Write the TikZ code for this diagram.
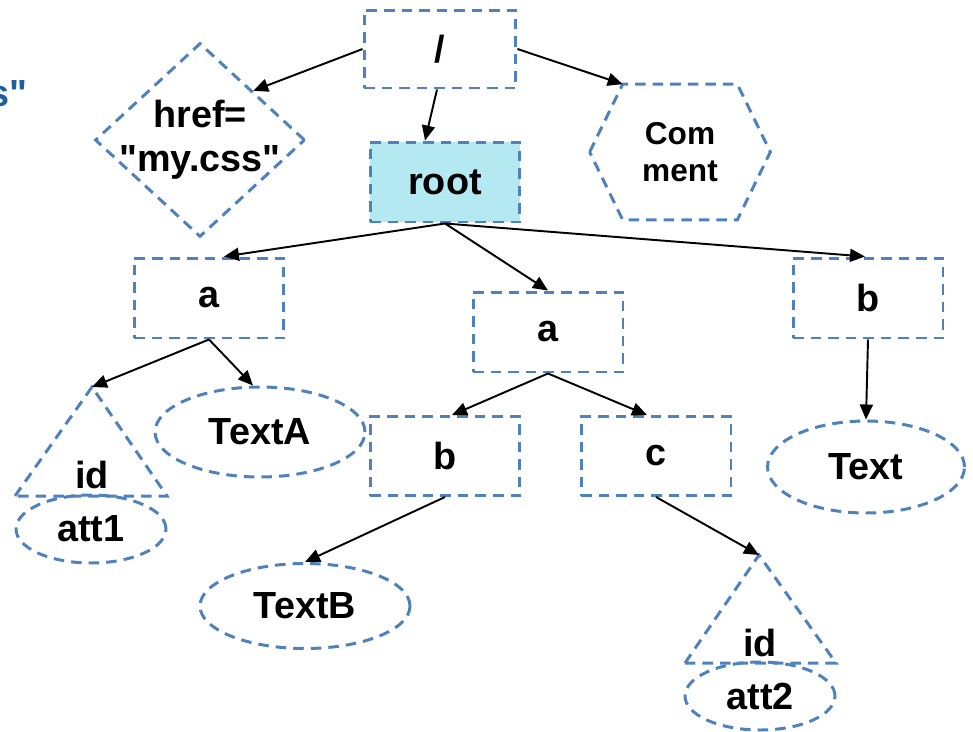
\documentclass[tikz,border=0pt]{standalone}
\usepackage{fontspec}
\setmainfont{Liberation Sans}
\usepackage{tikz}
\usetikzlibrary{arrows.meta, positioning, shapes.geometric, calc}
\definecolor{dashblue}{RGB}{79,129,189}
\definecolor{rootcyan}{RGB}{180,233,241}
\definecolor{titleblue}{RGB}{31,95,155}

\begin{document}
\begin{tikzpicture}[
      x=0.02cm, y=-0.02cm,
      font=\bfseries\fontsize{21.5}{25}\selectfont,
      dashline/.style={draw=dashblue, line width=1.7pt, dash pattern=on 6pt off 4pt},
      box/.style={rectangle, dashline, minimum width=3cm, minimum height=1.6cm, inner sep=0pt},
      textoval/.style={ellipse, dashline, minimum width=4.2cm, minimum height=1.8cm, inner sep=0pt},
      attoval/.style={ellipse, dashline, minimum width=3cm, minimum height=1.36cm, inner sep=0pt},
      arrow/.style={-{Triangle[length=3mm, width=2.6mm]}, line width=1.1pt}
    ]
    \useasboundingbox (0,0) rectangle (973,731);

    % Nodes
    \node[anchor=base east, inner sep=0pt, text=titleblue] (cut) at (28,106) {s\textquotedbl};
    \node[box, minimum width=3.04cm, minimum height=1.56cm] (slash) at (440,49) {/};
    \node[diamond, dashline, minimum width=4.2cm, minimum height=3.88cm, inner sep=0pt] (css) at (200,140) {};
    \node[align=center] (csstext) at (css) {href=\\\textquotedbl my.css\textquotedbl};
    \node[box, fill=rootcyan] (root) at (445,182) {root};
    \node[align=center, font=\bfseries\fontsize{18}{21}\selectfont, minimum width=3.6cm, minimum height=2.7cm, inner sep=0pt] (comment) at (680,152) {Com\\ment};
    \draw[dashline] (comment.west) -- ($(comment.north west)+(33,0)$) coordinate (comtip)
      -- ($(comment.north east)+(-33,0)$) -- (comment.east)
      -- ($(comment.south east)+(-33,0)$) -- ($(comment.south west)+(33,0)$) -- cycle;

    \node[box] (aleft) at (209,298) {a};
    \node[box] (amid) at (548,332) {a};
    \node[box] (bright) at (868,298) {b};
    \node[box, minimum height=1.58cm] (bmid) at (445,456) {b};
    \node[box, minimum height=1.58cm] (cmid) at (656,456) {c};

    \node[textoval] (texta) at (260,432) {TextA};
    \node[textoval, minimum height=1.7cm] (textb) at (305,606) {TextB};
    \node[textoval, minimum width=3.94cm, minimum height=1.84cm] (textc) at (866,467) {Text};

    % attribute id/att1
    \node[attoval] (att1) at (91,529) {att1};
    \node (id1) at (92,475) {id};
    \coordinate (id1top) at (92,387);
    \draw[dashline] (15,496) -- (id1top) -- (167,496) -- cycle;

    % attribute id/att2
    \node[attoval] (att2) at (760,696) {att2};
    \node (id2) at (760,643) {id};
    \coordinate (id2top) at (759,555);
    \draw[dashline] (685,663) -- (id2top) -- (836,663) -- cycle;

    % Arrows
    \draw[arrow] (slash.west) -- (css.north east);
    \draw[arrow] ([xshift=-0.06cm]slash.south) -- ([xshift=-0.4cm]root.north);
    \draw[arrow] (slash.east) -- (comtip);
    \draw[arrow] (root.south) -- ([xshift=0.3cm]aleft.north);
    \draw[arrow] (root.south) -- (amid.north);
    \draw[arrow] (root.south) -- ([xshift=-0.06cm]bright.north);
    \draw[arrow] (aleft.south) -- (id1top);
    \draw[arrow] (aleft.south) -- ([xshift=-0.14cm]texta.north);
    \draw[arrow] (amid.south) -- ([xshift=0.14cm]bmid.north);
    \draw[arrow] (amid.south) -- ([xshift=-0.18cm]cmid.north);
    \draw[arrow] (bright.south) -- (textc.north);
    \draw[arrow] (bmid.south) -- (textb.north);
    \draw[arrow] (cmid.south) -- (id2top);

    \end{tikzpicture}
\end{document}
